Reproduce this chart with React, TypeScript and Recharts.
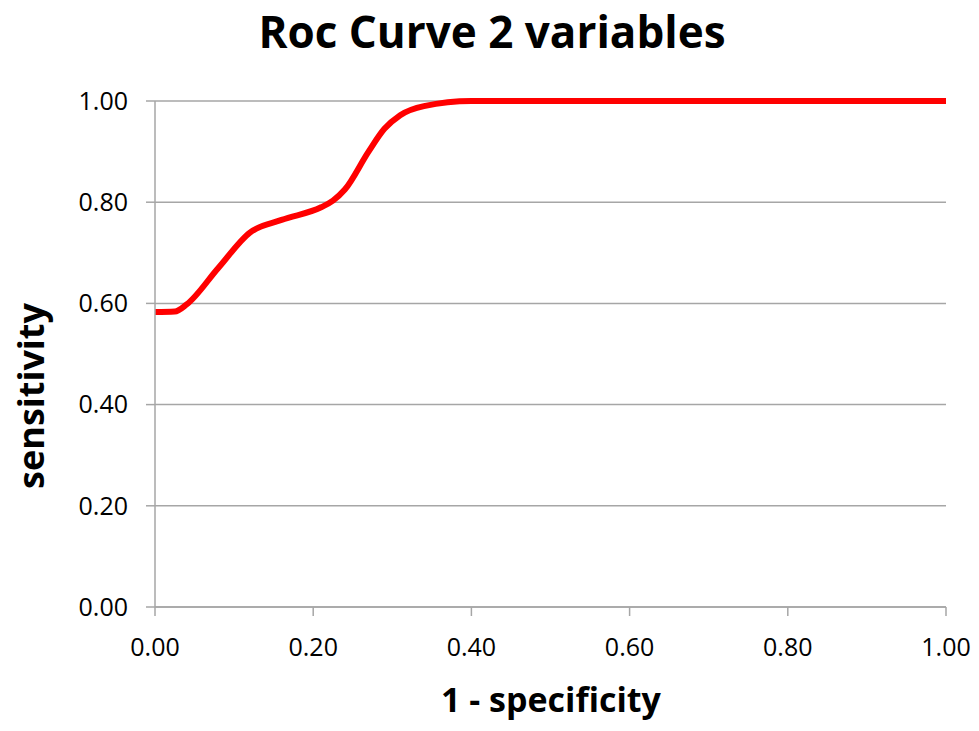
import React from "react"
import { LineChart, Line, XAxis, YAxis, CartesianGrid } from "recharts"

// 1 - specificity (false positive rate)
const fpr = [0, 0.025, 0.04, 0.08, 0.12, 0.16, 0.21, 0.225, 0.24, 0.27, 0.29, 0.31, 0.34, 0.4, 0.6, 1.0]
// sensitivity (true positive rate)
const tpr = [0.583, 0.584, 0.598, 0.67, 0.74, 0.765, 0.79, 0.803, 0.825, 0.9, 0.945, 0.972, 0.99, 1.0, 1.0, 1.0]

const xTicks = [0, 0.2, 0.4, 0.6, 0.8, 1.0]
const yTicks = [0, 0.2, 0.4, 0.6, 0.8, 1.0]

const rocData = fpr.map((x, i) => ({ x, y: tpr[i] }))

const font = "'Open Sans', Lato, sans-serif"
const axisGray = "#a6a6a6"

export default function App() {
  return (
    <div style={{ position: "absolute", left: 0, top: 0, width: 979, height: 731, background: "#fff" }}>
      <LineChart
        width={979}
        height={731}
        data={rocData}
        margin={{ top: 101, right: 33, bottom: 84, left: 95 }}
      >
        <CartesianGrid horizontal vertical={false} stroke={axisGray} strokeWidth={1.5} />
        <XAxis
          dataKey="x"
          type="number"
          domain={[0, 1]}
          ticks={xTicks}
          tickFormatter={(v: number) => v.toFixed(2)}
          height={40}
          stroke={axisGray}
          strokeWidth={1.5}
          tickSize={9}
          tick={{ fill: "#000", fontSize: 25, fontFamily: font, dy: 20 }}
        />
        <YAxis
          type="number"
          domain={[0, 1]}
          ticks={yTicks}
          tickFormatter={(v: number) => v.toFixed(2)}
          width={60}
          stroke={axisGray}
          strokeWidth={1.5}
          tickSize={9}
          tick={{ fill: "#000", fontSize: 25, fontFamily: font, dx: -16 }}
        />
        <Line
          type="monotone"
          dataKey="y"
          stroke="#ff0000"
          strokeWidth={6}
          dot={false}
          isAnimationActive={false}
        />
        <text x={492} y={48} textAnchor="middle" fontFamily={font} fontWeight={700} fontSize={44} fill="#000">
          Roc Curve 2 variables
        </text>
        <text x={551} y={712} textAnchor="middle" fontFamily={font} fontWeight={700} fontSize={34} fill="#000">
          1 - specificity
        </text>
        <text
          x={0}
          y={0}
          transform="translate(44 396) rotate(-90)"
          textAnchor="middle"
          fontFamily={font}
          fontWeight={700}
          fontSize={36}
          fill="#000"
        >
          sensitivity
        </text>
      </LineChart>
    </div>
  )
}
